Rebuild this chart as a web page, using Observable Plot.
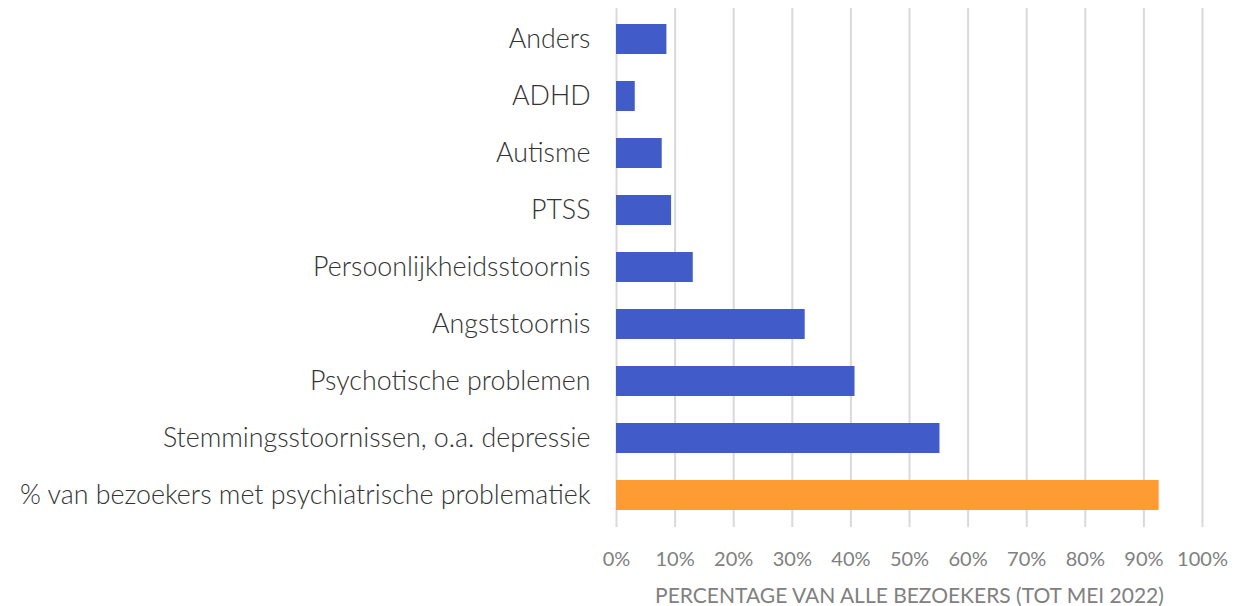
<!DOCTYPE html>
<html>
<head>
<meta charset="utf-8">
<script src="https://cdn.jsdelivr.net/npm/d3@7"></script>
<script src="https://cdn.jsdelivr.net/npm/@observablehq/plot@0.6"></script>
<style>
  html, body { margin: 0; padding: 0; background: #fff; }
  #chart svg { display: block; }
</style>
</head>
<body>
<div id="chart"></div>
<script>
const categories = [
  "Anders",
  "ADHD",
  "Autisme",
  "PTSS",
  "Persoonlijkheidsstoornis",
  "Angststoornis",
  "Psychotische problemen",
  "Stemmingsstoornissen, o.a. depressie",
  "% van bezoekers met psychiatrische problematiek"
];
const values = [8.6, 3.2, 7.8, 9.4, 13.1, 32.2, 40.7, 55.2, 92.6];
const groups = ["diag", "diag", "diag", "diag", "diag", "diag", "diag", "diag", "total"];
const xTicks = [0, 10, 20, 30, 40, 50, 60, 70, 80, 90, 100];
const xLabel = "PERCENTAGE VAN ALLE BEZOEKERS (TOT MEI 2022)";

const data = categories.map((c, i) => ({category: c, value: values[i], group: groups[i]}));

const chart = Plot.plot({
  width: 1255,
  height: 606,
  marginLeft: 616,
  marginRight: 53,
  marginTop: 8,
  marginBottom: 79,
  style: {fontFamily: "Lato, sans-serif", background: "#fff"},
  x: {domain: [0, 100]},
  y: {domain: categories, paddingInner: 0.47, paddingOuter: 0.235},
  color: {domain: ["diag", "total"], range: ["#415CC9", "#FF9B33"]},
  marks: [
    Plot.gridX(xTicks, {stroke: "#d9d9d9", strokeOpacity: 1, strokeWidth: 2}),
    Plot.barX(data, {x: "value", y: "category", fill: "group"}),
    Plot.axisY({tickSize: 0, tickPadding: 26, label: null, fontSize: 26.8, fontWeight: 300, fill: "#333333"}),
    Plot.axisX(xTicks, {
      tickSize: 0, tickPadding: 24, fontSize: 20, fontWeight: 400, fill: "#808080",
      tickFormat: d => d + "%", label: null
    }),
    Plot.axisX([], {
      tickSize: 0, fontSize: 21, fontWeight: 400, fill: "#808080",
      label: xLabel, labelAnchor: "center", labelArrow: "none", labelOffset: 75
    })
  ]
});
document.getElementById("chart").appendChild(chart);
</script>
</body>
</html>
